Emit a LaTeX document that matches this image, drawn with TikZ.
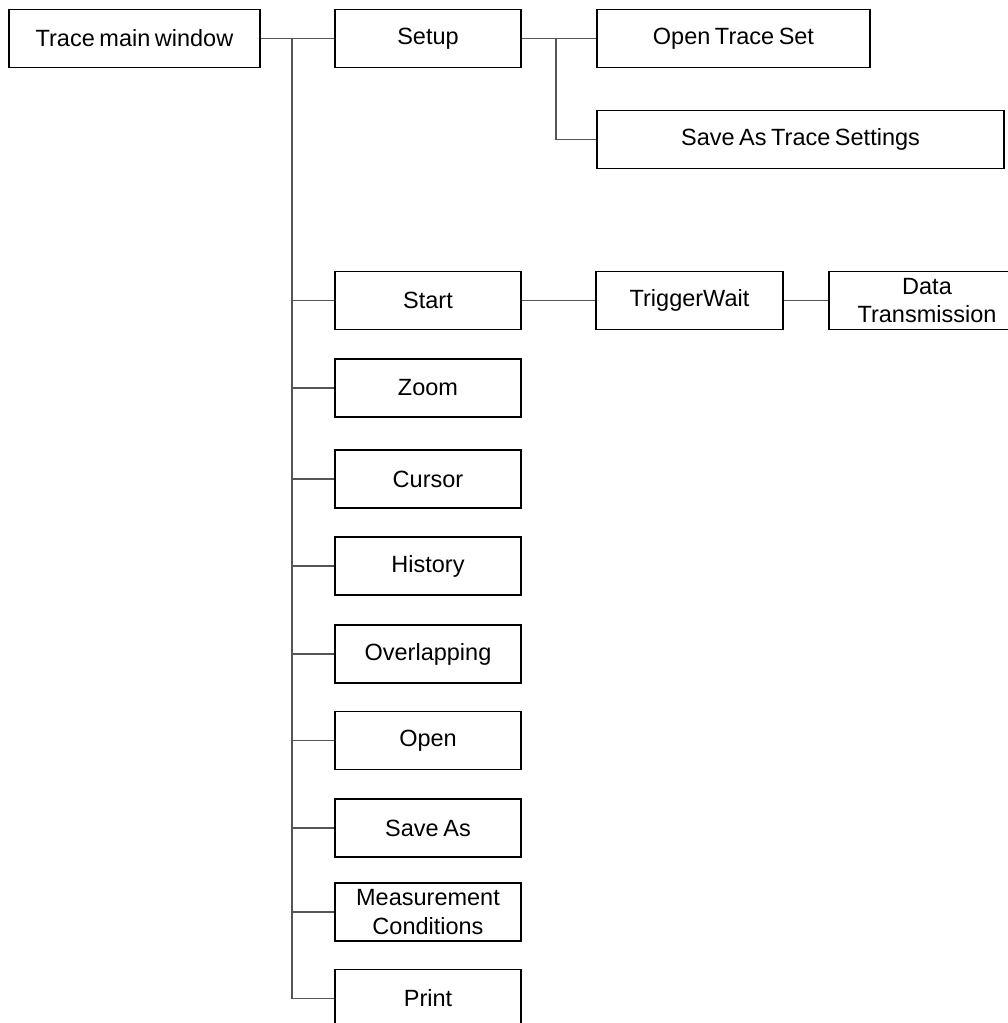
\documentclass[tikz,border=0pt]{standalone}
\usepackage{fontspec}
\setmainfont{Liberation Sans}[WordSpace=0.7]
\definecolor{linkgray}{RGB}{85,85,85}
\begin{document}
\begin{tikzpicture}[x=1pt,y=-1pt,
  menubox/.style={draw=black,line width=1.7pt,rectangle,inner sep=0pt,
    minimum height=58pt,align=center,
    font=\fontsize{23.5pt}{28.5pt}\selectfont},
  link/.style={draw=linkgray,line width=1.2pt}]
\useasboundingbox (0,0) rectangle (1008,1023);
\begin{scope}
\clip (0,0) rectangle (1008,1023);
% root
\node[menubox,minimum width=251pt] (tm) at (134.5,38.5) {Trace main window};
% first level
\node[menubox,minimum width=186pt] (setup) at (428,38.5) {Setup};
\node[menubox,minimum width=186pt] (start) at (428,300.5) {Start};
\node[menubox,minimum width=186pt] (zoom) at (428,388) {Zoom};
\node[menubox,minimum width=186pt] (cursor) at (428,479) {Cursor};
\node[menubox,minimum width=186pt] (history) at (428,566) {History};
\node[menubox,minimum width=186pt] (overlap) at (428,654) {Overlapping};
\node[menubox,minimum width=186pt] (open) at (428,740.5) {Open};
\node[menubox,minimum width=186pt] (saveas) at (428,828) {Save As};
\node[menubox,minimum width=186pt] (meas) at (428,912) {Measurement\\Conditions};
\node[menubox,minimum width=186pt] (print) at (428,998.5) {Print};
% second level
\node[menubox,minimum width=273pt] (ots) at (733.5,38.5) {Open Trace Set};
\node[menubox,minimum width=407pt] (sats) at (800.5,139.5) {Save As Trace Settings};
\node[menubox,minimum width=187pt] (trig) at (689.5,300.5) {TriggerWait};
\node[menubox,minimum width=196pt] (data) at (927,300.5) {Data\\Transmission};
% junctions
\coordinate (j1) at (292,38.5);
\coordinate (j2) at (556,38.5);
% connectors from the main window
\draw[link] (tm.east) -- (setup.west);
\draw[link] (j1) |- (print.west);
\foreach \n in {start,zoom,cursor,history,overlap,open,saveas,meas}
  \draw[link] (j1 |- \n.west) -- (\n.west);
% setup submenu
\draw[link] (setup.east) -- (ots.west);
\draw[link] (j2) |- (sats.west);
% start sequence
\draw[link] (start.east) -- (trig.west);
\draw[link] (trig.east) -- (data.west);
\end{scope}
\end{tikzpicture}
\end{document}
